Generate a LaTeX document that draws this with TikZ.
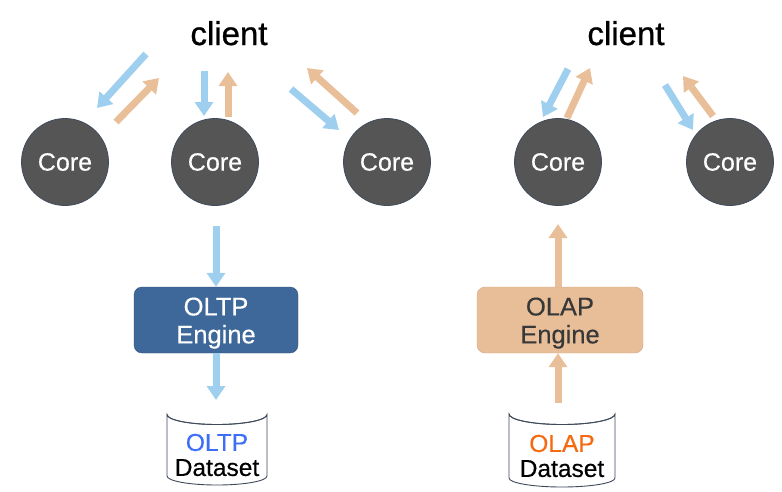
\documentclass[tikz,border=0pt]{standalone}
\usepackage{fontspec}
\setmainfont{Liberation Sans}
\newfontfamily\heavyfont[FakeBold=0.9]{Liberation Sans}
\newfontfamily\medfont[FakeBold=0.4]{Liberation Sans}
\usetikzlibrary{arrows.meta}
\definecolor{arrblue}{HTML}{9FCFEE}
\definecolor{arrorange}{HTML}{E8BF98}
\definecolor{coregray}{HTML}{555555}
\definecolor{coreedge}{HTML}{3F4B5B}
\definecolor{oltpfill}{HTML}{3E6899}
\definecolor{olapfill}{HTML}{E8BE98}
\definecolor{oltptext}{HTML}{3D6EF7}
\definecolor{olaptext}{HTML}{F5690F}
\definecolor{cylEdge}{HTML}{3F4B5B}
\begin{document}
\begin{tikzpicture}[x=1pt,y=-1pt,
  core/.style={circle, fill=coregray, draw=coreedge, line width=0.8pt, minimum size=87pt, inner sep=0pt, text=white, font=\medfont\fontsize{25}{25}\selectfont},
  clienttxt/.style={font=\heavyfont\fontsize{33}{33}\selectfont, anchor=base},
  engine/.style={rounded corners=8pt, minimum width=164pt, minimum height=66pt, align=center, inner sep=0pt, font=\medfont\fontsize{25.5}{28}\selectfont},
  dstxt/.style={align=center, inner sep=0pt, font=\medfont\fontsize{24.5}{25}\selectfont},
  cyl/.style={fill=white, draw=cylEdge, line width=0.9pt},
  barrow/.style={line width=7pt, draw=arrblue, -{Triangle[width=18pt,length=14pt]}},
  oarrow/.style={line width=7pt, draw=arrorange, -{Triangle[width=18pt,length=14pt]}}
]
\useasboundingbox (0,0) rectangle (782,491);

% clients
\node[clienttxt] (clientL) at (229,45) {client};
\node[clienttxt] (clientR) at (626,45) {client};

% cores
\node[core] (c1) at (65,162) {Core};
\node[core] (c2) at (215,162) {Core};
\node[core] (c3) at (387,162) {Core};
\node[core] (c4) at (558,162) {Core};
\node[core] (c5) at (730,162) {Core};

% engines
\node[engine, fill=oltpfill, draw=oltpfill!80!black, text=white] (oltp) at (216,320) {\rule{0pt}{24pt}OLTP\\Engine};
\node[engine, fill=olapfill, draw=olapfill!90!black, text=black!78, minimum width=166pt] (olap) at (560,320) {\rule{0pt}{24pt}OLAP\\Engine};

% cylinders
\path[cyl] (167,414.5) -- (167,476) arc[start angle=180,end angle=360,x radius=50pt,y radius=9pt] -- (267,414.5) arc[start angle=0,end angle=-180,x radius=50pt,y radius=10pt] -- cycle;
\draw[cylEdge, line width=0.9pt] (167,414.5) arc[start angle=180,end angle=360,x radius=50pt,y radius=10pt];
\node[dstxt] (ds1) at (217,455) {\textcolor{oltptext}{OLTP}\\Dataset};

\path[cyl] (509,414) -- (509,478) arc[start angle=180,end angle=360,x radius=53pt,y radius=9pt] -- (615,414) arc[start angle=0,end angle=-180,x radius=53pt,y radius=10.5pt] -- cycle;
\draw[cylEdge, line width=0.9pt] (509,414) arc[start angle=180,end angle=360,x radius=53pt,y radius=10.5pt];
\node[dstxt] (ds2) at (562,456) {\textcolor{olaptext}{OLAP}\\Dataset};

% arrow end coordinates
\coordinate (a1s) at (146,54);  \coordinate (a1e) at (97,108);
\coordinate (b1s) at (116,122); \coordinate (b1e) at (159,78);
\coordinate (a2s) at (204,71);  \coordinate (a2e) at (204,116);
\coordinate (b2s) at (228,117); \coordinate (b2e) at (228,72);
\coordinate (a3s) at (291,89);  \coordinate (a3e) at (339,130);
\coordinate (b3s) at (357,113); \coordinate (b3e) at (307,68);
\coordinate (a4s) at (568,69);  \coordinate (a4e) at (543,117);
\coordinate (b4s) at (567,118); \coordinate (b4e) at (590,68);
\coordinate (a5s) at (665,85);  \coordinate (a5e) at (693,130);
\coordinate (b5s) at (713,116); \coordinate (b5e) at (683,76);
\coordinate (v1s) at (216,226);
\coordinate (v2e) at (216,400);
\coordinate (v3e) at (558,224);
\coordinate (v4s) at (558,403);

\draw[barrow] (a1s) -- (a1e);
\draw[oarrow] (b1s) -- (b1e);
\draw[barrow] (a2s) -- (a2e);
\draw[oarrow] (b2s) -- (b2e);
\draw[barrow] (a3s) -- (a3e);
\draw[oarrow] (b3s) -- (b3e);
\draw[barrow] (a4s) -- (a4e);
\draw[oarrow] (b4s) -- (b4e);
\draw[barrow] (a5s) -- (a5e);
\draw[oarrow] (b5s) -- (b5e);

\draw[barrow] (v1s) -- (oltp.north);
\draw[barrow] (oltp.south) -- (v2e);
\draw[oarrow] (olap.north -| v3e) -- (v3e);
\draw[oarrow] (v4s) -- (olap.south -| v4s);
\end{tikzpicture}
\end{document}
